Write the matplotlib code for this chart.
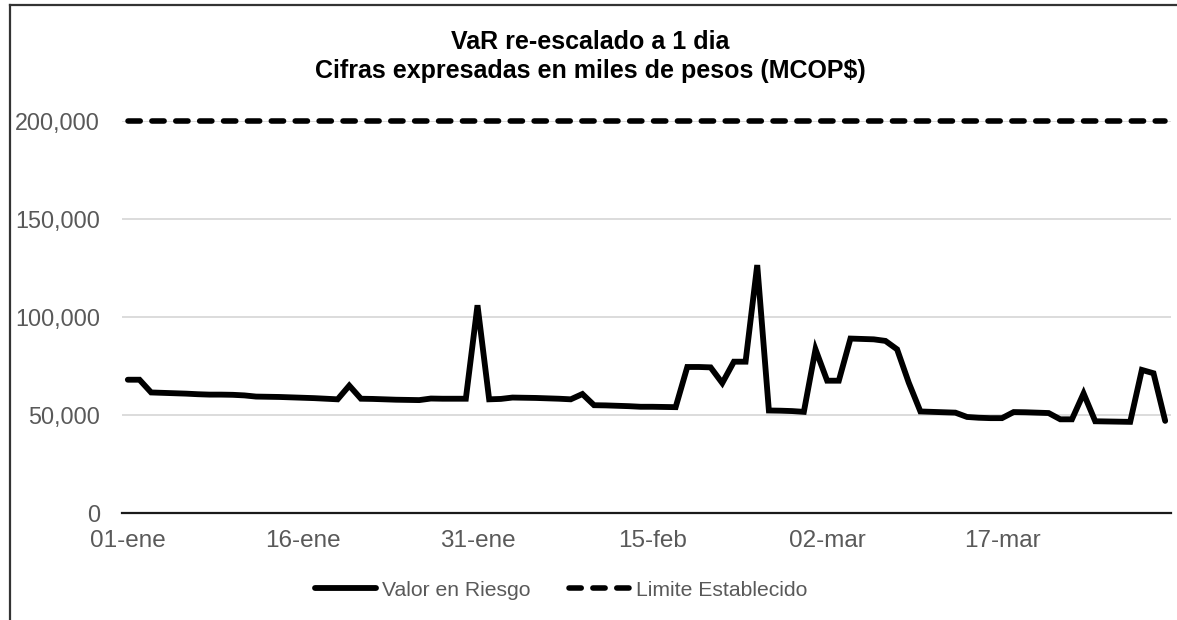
import numpy as np
import pandas as pd
import matplotlib
matplotlib.use("Agg")
import matplotlib.pyplot as plt
from matplotlib.ticker import FuncFormatter

plt.rcParams['font.family'] = ['Liberation Sans', 'DejaVu Sans']

# daily dates 01-ene .. 31-mar
dates = pd.date_range("2021-01-01", "2021-03-31", freq="D")

# Valor en Riesgo (MCOP$)
var_values = [
    68000, 68000, 61500, 61300, 61100, 60900, 60600, 60400, 60400, 60300,
    60000, 59400, 59300, 59200, 59000, 58800, 58600, 58300, 58000, 65000,
    58300, 58200, 58000, 57800, 57700, 57600, 58400, 58300, 58300, 58300,
    106000, 58000, 58200, 58900, 58800, 58700, 58500, 58300, 58000, 60700,
    55000, 54900, 54700, 54500, 54200, 54200, 54100, 54000, 74500, 74500,
    74300, 66300, 77200, 77200, 126500, 52300, 52200, 52000, 51600, 83500,
    67500, 67500, 89000, 88800, 88600, 87800, 83500, 66500, 51800, 51600,
    51400, 51200, 49000, 48600, 48400, 48400, 51500, 51400, 51200, 51000,
    47800, 47800, 61000, 46800, 46700, 46600, 46500, 73000, 71300, 47000,
]
limit_value = 200000
limit_values = [limit_value] * len(dates)

month_names = ['ene', 'feb', 'mar', 'abr', 'may', 'jun',
               'jul', 'ago', 'sep', 'oct', 'nov', 'dic']
yticks = [0, 50000, 100000, 150000, 200000]

title_1 = "VaR re-escalado a 1 dia"
title_2 = "Cifras expresadas en miles de pesos (MCOP$)"

txt_color = '#595959'

fig = plt.figure(figsize=(11.77, 6.2), dpi=100)
ax = fig.add_axes([122 / 1177, 1 - 513 / 620, (1171 - 122) / 1177, (513 - 121) / 620])

ax.plot(dates, var_values, color='black', lw=4.2, solid_joinstyle='miter',
        solid_capstyle='round', label='Valor en Riesgo', zorder=3)
ax.plot(dates, limit_values, color='black', lw=4.0, dashes=(2.2, 2.1),
        dash_capstyle='round', label='Limite Establecido', zorder=4, clip_on=False)

ax.set_ylim(0, 200000)
ax.set_yticks(yticks)
ax.yaxis.set_major_formatter(FuncFormatter(lambda v, p: f"{int(v):,}"))
ax.set_xlim(dates[0] - pd.Timedelta(hours=12), dates[-1] + pd.Timedelta(hours=12))
ax.set_xticks(dates[::15])
ax.set_xticklabels([f"{d.day:02d}-{month_names[d.month - 1]}" for d in dates[::15]])

ax.grid(axis='y', color='#d9d9d9', lw=1.3)
ax.set_axisbelow(True)
for s in ['top', 'right', 'left']:
    ax.spines[s].set_visible(False)
ax.spines['bottom'].set_color('#1a1a1a')
ax.spines['bottom'].set_linewidth(1.6)
ax.spines['bottom'].set_zorder(2)
ax.tick_params(axis='both', length=0, labelcolor=txt_color)
ax.tick_params(axis='y', pad=16, labelsize=16.8)
ax.tick_params(axis='x', pad=12, labelsize=17.5)

fig.text(590 / 1177, 1 - 42 / 620, title_1, ha='center', va='center',
         fontsize=18, fontweight='bold', color='black')
fig.text(590 / 1177, 1 - 71 / 620, title_2, ha='center', va='center',
         fontsize=18, fontweight='bold', color='black')

leg = fig.legend(loc='center', bbox_to_anchor=(561 / 1177, 1 - 590 / 620), ncol=2,
                 frameon=False, fontsize=15.2, handlelength=2.9, handletextpad=0.3,
                 columnspacing=1.8)
for t in leg.get_texts():
    t.set_color(txt_color)

# outer chart frame (cropped on the right and bottom)
fig.add_artist(plt.Line2D([10 / 1177, 10 / 1177], [0, 1 - 5 / 620], transform=fig.transFigure,
                          color='#333333', lw=1.6))
fig.add_artist(plt.Line2D([10 / 1177, 1], [1 - 5 / 620, 1 - 5 / 620], transform=fig.transFigure,
                          color='#333333', lw=1.6))

fig.savefig("out.png", dpi=100)
